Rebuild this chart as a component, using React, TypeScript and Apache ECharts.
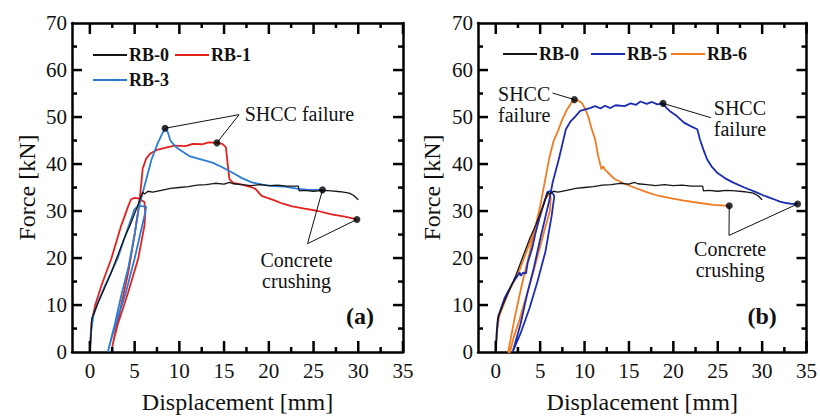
import React, { useEffect, useRef } from "react";
import * as echarts from "echarts";

const FONT = "'Liberation Serif', 'Times New Roman', Times, serif";

const xMajorTicks = [0, 5, 10, 15, 20, 25, 30, 35];
const xMinorTicks = [2.5, 7.5, 12.5, 17.5, 22.5, 27.5, 32.5];
const yMajorTicks = [10, 20, 30, 40, 50, 60];
const yMinorTicks = [5, 15, 25, 35, 45, 55, 65];
const xTitle = "Displacement [mm]";
const yTitle = "Force [kN]";

const RB0 = [
  [0, 0], [0.1, 3], [0.2, 7], [0.8, 10], [1.5, 13], [2.3, 16.5], [3, 20], [3.8, 24], [4.5, 27],
  [5.2, 30.4], [5.6, 32.5], [5.9, 34], [6.1, 33.6], [6.5, 34.2], [7, 34], [8, 34.4], [9, 34.8],
  [10, 35], [11, 35.2], [12, 35.5], [13, 35.6], [14, 35.9], [15, 35.7], [15.6, 36.1], [16, 35.8],
  [17, 35.6], [18, 35.4], [19, 35.6], [20, 35.4], [21, 35.5], [22, 35.3], [23.3, 35.3], [23.4, 34.3],
  [24, 34.4], [25, 34.2], [26, 34.4], [27, 34.3], [28, 34.1], [29, 33.8], [29.5, 33.3], [30, 32.4],
];

const RB1 = [
  [0, 0], [0.2, 6.5], [0.6, 10], [1.3, 14.2], [2.4, 19.9], [3.5, 26.9], [4.3, 31.1], [4.6, 32.5],
  [5.0, 32.8], [5.4, 32.7], [6.1, 31.9], [6.2, 29.5], [6.1, 26.9], [5.4, 19.9], [4.3, 12.8], [3.1, 5.8],
  [2.6, 2], [2.4, 0], [2.7, 3], [3.5, 10], [4.3, 17], [5.0, 25], [5.4, 30], [5.7, 35], [5.9, 39],
  [6.3, 41.2], [6.8, 42.3], [7.5, 43], [8.5, 43.5], [9.5, 43.9], [10.7, 43.8], [11.5, 44.3], [12.5, 44.2],
  [13.3, 44.6], [14.2, 44.5], [14.8, 44.3], [15.2, 43.6], [15.4, 40], [15.6, 36.8], [16, 36], [17, 35.6],
  [18, 35.1], [18.5, 34.7], [19.2, 33.2], [20.7, 32.2], [21.5, 31.6], [22.6, 31], [24, 30.5], [25.5, 30],
  [27, 29.3], [28.5, 28.8], [29.85, 28.2],
];

const RB3 = [
  [0, 0], [0.1, 4], [0.4, 7.8], [1, 11], [1.7, 14.2], [3.1, 19.9], [4, 25], [5, 30.4], [5.4, 31.1],
  [6.0, 31], [6.3, 30.9], [6.1, 29], [5, 19.9], [4, 12.5], [3.1, 7.2], [2.5, 3.5], [2, 0], [2.8, 6],
  [3.5, 12], [4.3, 18], [5, 25], [5.5, 31], [6.2, 36], [6.9, 41], [7.6, 44.5], [8.1, 46.5], [8.4, 47.6],
  [8.7, 46.8], [9, 45], [9.5, 43.8], [10, 43.1], [11.1, 41.7], [12.4, 41], [13.7, 40.3], [14.8, 39.3],
  [15.9, 38.2], [17, 37], [18.1, 36.1], [19.3, 35.6], [20.4, 35.3], [21.8, 35.2], [23.3, 34.7],
  [24.5, 34.5], [26, 34.5],
];

const RB5 = [
  [0, 0], [0.1, 4], [0.3, 7.7], [1, 11.5], [1.9, 14.7], [2.7, 16.9], [2.8, 16.2], [3.1, 16.9],
  [3.4, 16.7], [3.6, 19], [4.1, 22], [4.5, 25.5], [4.9, 28.3], [5.4, 31.5], [5.8, 34], [6.2, 34.3],
  [6.6, 33.2], [6.3, 29], [5.6, 21.4], [4.7, 15], [3.8, 9.3], [2.8, 4], [1.9, 0], [2.8, 6], [3.5, 12],
  [4.3, 18], [5, 24], [6, 32], [6.4, 36], [7.1, 41], [7.9, 47.4], [8.4, 49], [9, 50.2], [9.5, 51.3],
  [10.1, 51.6], [10.6, 51.9], [11.2, 52.3], [11.8, 51.8], [12.3, 52.4], [12.9, 51.9], [13.5, 52.5],
  [14.5, 52.3], [15.2, 52.9], [15.8, 52.6], [16.3, 53.3], [17, 52.8], [17.6, 53.2], [18.2, 52.7],
  [18.84, 52.9], [19.2, 52], [19.7, 51.1], [20.4, 50.2], [21.2, 48.8], [22, 48], [22.7, 47.4], [23, 45.2],
  [23.4, 43], [23.8, 41], [24.3, 39.5], [24.9, 38.2], [25.8, 37], [26.7, 36.1], [28, 35], [29.3, 34],
  [30.3, 33.2], [31.2, 32.6], [32, 32], [32.7, 31.7], [33.3, 31.5], [34, 31.5],
];

const RB6 = [
  [0, 0], [0.1, 4], [0.4, 7.7], [1.4, 12.6], [2.7, 17.5], [4.1, 24.6], [5.0, 29.5], [5.6, 32.6],
  [6, 33.6], [6.2, 32.9], [6.1, 30], [5.6, 26.7], [4.8, 21], [4.1, 16.1], [3.3, 11], [2.7, 7], [2, 3],
  [1.6, 0], [1.4, 0], [2.1, 7], [2.9, 14], [3.8, 21], [4.5, 27], [5, 31], [5.5, 36], [6, 41],
  [6.5, 44.8], [7, 47], [7.5, 49.5], [8, 51.5], [8.5, 53], [8.86, 53.7], [9.3, 53.5], [9.7, 53],
  [10.1, 51.6], [10.4, 50.2], [10.8, 47.5], [11.2, 45.2], [11.5, 42], [11.9, 38.9], [12.1, 39.5],
  [12.3, 38.8], [13, 37.5], [13.4, 36.8], [14.5, 35.8], [15.6, 35], [17, 34], [18.2, 33.3],
  [19.5, 32.8], [21.2, 32.2], [23, 31.7], [24.5, 31.3], [26.3, 31.1],
];

const dotsA = [[8.4, 47.6], [14.2, 44.5], [26, 34.5], [29.85, 28.2]];
const dotsB = [[8.86, 53.7], [18.84, 52.9], [26.3, 31.1], [34, 31.5]];

const leadersA = [
  [[8.4, 47.6], [16.67, 50.5], [14.2, 44.5]],
  [[26, 34.5], [24.33, 23.05], [29.85, 28.2]],
];
const leadersB = [
  [[6.39, 55.1], [8.86, 53.7]],
  [[18.84, 52.9], [24.23, 49.85]],
  [[26.3, 31.1], [26.27, 24.8], [34, 31.5]],
];

const notesA = [
  { text: "SHCC failure", at: [17.3, 50.6], align: "left", bold: false, size: 20 },
  { text: "Concrete\ncrushing", at: [23.1, 17.4], align: "center", bold: false, size: 20 },
  { text: "(a)", at: [30.2, 7.6], align: "center", bold: true, size: 24 },
];
const notesB = [
  { text: "SHCC\nfailure", at: [3.2, 52.6], align: "center", bold: false, size: 20 },
  { text: "SHCC\nfailure", at: [27.5, 49.7], align: "center", bold: false, size: 20 },
  { text: "Concrete\ncrushing", at: [26.4, 19.7], align: "center", bold: false, size: 20 },
  { text: "(b)", at: [30.0, 7.6], align: "center", bold: true, size: 24 },
];

const COLORS: Record<string, string> = {
  "RB-0": "#161616",
  "RB-1": "#e3221f",
  "RB-3": "#2a7dd4",
  "RB-5": "#1b2cb3",
  "RB-6": "#f27b22",
};

const legendA = [
  { name: "RB-0", x: 93, y: 55 },
  { name: "RB-1", x: 175, y: 55 },
  { name: "RB-3", x: 93, y: 80 },
];
const legendB = [
  { name: "RB-0", x: 503, y: 54 },
  { name: "RB-5", x: 591, y: 54 },
  { name: "RB-6", x: 671, y: 54 },
];

const X_MIN = -2, X_MAX = 35, Y_MIN = 0, Y_MAX = 70;
const MAJOR_LEN = 10;
const MINOR_LEN = 5;
const axisLine = () => ({ show: true, onZero: false, lineStyle: { color: "#000", width: 2.5 } });

function xAxes(gridIndex: number) {
  return [
    {
      type: "value", gridIndex, min: X_MIN, max: X_MAX, splitLine: { show: false }, position: "bottom",
      name: xTitle, nameLocation: "middle", nameGap: 38,
      nameTextStyle: { fontFamily: FONT, fontSize: 24, color: "#111" },
      axisLine: axisLine(),
      axisTick: { show: false },
      axisLabel: { show: true, customValues: xMajorTicks, margin: 8, fontFamily: FONT, fontSize: 21, color: "#111" },
    },
    {
      type: "value", gridIndex, min: X_MIN, max: X_MAX, splitLine: { show: false }, position: "top",
      axisLine: axisLine(),
      axisTick: { show: false },
      axisLabel: { show: false },
    },
  ];
}

function yAxes(gridIndex: number, nameGap: number) {
  return [
    {
      type: "value", gridIndex, min: Y_MIN, max: Y_MAX, interval: 10, splitLine: { show: false }, position: "left",
      name: yTitle, nameLocation: "middle", nameGap,
      nameTextStyle: { fontFamily: FONT, fontSize: 24, color: "#111" },
      axisLine: axisLine(),
      axisTick: { show: false },
      axisLabel: { show: true, margin: 5, fontFamily: FONT, fontSize: 21, color: "#111" },
    },
    {
      type: "value", gridIndex, min: Y_MIN, max: Y_MAX, interval: 10, splitLine: { show: false }, position: "right",
      axisLine: axisLine(),
      axisTick: { show: false },
      axisLabel: { show: false },
    },
  ];
}

function curve(name: string, data: number[][], xi: number, yi: number, width: number) {
  return {
    type: "line", name, data, xAxisIndex: xi, yAxisIndex: yi,
    showSymbol: false, symbol: "none", smooth: false, z: name === "RB-0" ? 3 : 2,
    lineStyle: { color: COLORS[name], width },
  };
}

function leader(data: number[][], xi: number, yi: number) {
  return {
    type: "line", data, xAxisIndex: xi, yAxisIndex: yi, symbol: "none", z: 4,
    lineStyle: { color: "#111", width: 1 }, silent: true,
  };
}

export default function App() {
  const ref = useRef<HTMLDivElement>(null);
  useEffect(() => {
    if (!ref.current) return;
    const chart = echarts.init(ref.current, null, { renderer: "svg" });
    const series: any[] = [
      curve("RB-1", RB1, 0, 0, 1.8),
      curve("RB-3", RB3, 0, 0, 1.8),
      curve("RB-0", RB0, 0, 0, 1.3),
      curve("RB-6", RB6, 2, 2, 1.8),
      curve("RB-5", RB5, 2, 2, 1.8),
      curve("RB-0", RB0, 2, 2, 1.3),
      ...leadersA.map((d) => leader(d, 0, 0)),
      ...leadersB.map((d) => leader(d, 2, 2)),
      { type: "scatter", data: dotsA, xAxisIndex: 0, yAxisIndex: 0, symbolSize: 7, itemStyle: { color: "#000" }, z: 5 },
      { type: "scatter", data: dotsB, xAxisIndex: 2, yAxisIndex: 2, symbolSize: 7, itemStyle: { color: "#000" }, z: 5 },
    ];
    chart.setOption({
      animation: false,
      grid: [
        { left: 72, right: 417, top: 23, bottom: 65, containLabel: false },
        { left: 478, right: 12, top: 23, bottom: 65, containLabel: false },
      ],
      xAxis: [...xAxes(0), ...xAxes(1)],
      yAxis: [...yAxes(0, 33), ...yAxes(1, 34)],
      series,
    });

    const graphic: any[] = [];
    // tick marks: filled rectangles along the inner side of each frame edge
    const addTicks = (xi: number, yi: number) => {
      const finder = { xAxisIndex: xi, yAxisIndex: yi } as any;
      const p0 = chart.convertToPixel(finder, [X_MIN, Y_MIN]) as number[];
      const p1 = chart.convertToPixel(finder, [X_MAX, Y_MAX]) as number[];
      const left = p0[0], bottom = p0[1], right = p1[0], top = p1[1];
      const rect = (x: number, y: number, w: number, h: number) => {
        graphic.push({
          type: "rect", z: 50,
          shape: { x: Math.round(x * 10) / 10, y: Math.round(y * 10) / 10, width: w, height: h },
          style: { fill: "#000000" },
        });
      };
      const xt = (vals: number[], len: number) => vals.forEach((v) => {
        const px = (chart.convertToPixel(finder, [v, Y_MIN]) as number[])[0];
        rect(px - 1.25, bottom - len, 2.5, len);
        rect(px - 1.25, top, 2.5, len);
      });
      const yt = (vals: number[], len: number) => vals.forEach((v) => {
        const py = (chart.convertToPixel(finder, [X_MIN, v]) as number[])[1];
        rect(left, py - 1.25, len, 2.5);
        rect(right - len, py - 1.25, len, 2.5);
      });
      xt(xMajorTicks, MAJOR_LEN + 1);
      xt(xMinorTicks, MINOR_LEN);
      yt(yMajorTicks, MAJOR_LEN);
      yt(yMinorTicks, MINOR_LEN);
    };
    addTicks(0, 0);
    addTicks(2, 2);

    const addLegend = (items: any[]) => {
      items.forEach((it) => {
        graphic.push({
          type: "line", shape: { x1: it.x, y1: it.y, x2: it.x + 34, y2: it.y },
          style: { stroke: COLORS[it.name], lineWidth: 2 },
        });
        graphic.push({
          type: "text", x: it.x + 36, y: it.y,
          style: { text: it.name, fontFamily: FONT, fontSize: 18, fontWeight: "bold", fill: "#111", textVerticalAlign: "middle", textAlign: "left" },
        });
      });
    };
    addLegend(legendA);
    addLegend(legendB);
    const addNotes = (notes: any[], xi: number, yi: number) => {
      notes.forEach((n) => {
        const p = chart.convertToPixel({ xAxisIndex: xi, yAxisIndex: yi } as any, n.at) as number[];
        graphic.push({
          type: "text", x: p[0], y: p[1],
          style: {
            text: n.text, fontFamily: FONT, fontSize: n.size, fontWeight: n.bold ? "bold" : "normal",
            fill: "#111", textAlign: n.align, textVerticalAlign: "middle", lineHeight: 21,
          },
        });
      });
    };
    addNotes(notesA, 0, 0);
    addNotes(notesB, 2, 2);
    chart.setOption({ graphic });

    return () => chart.dispose();
  }, []);
  return <div ref={ref} style={{ width: 820, height: 419, position: "absolute", left: 0, top: 0, background: "#fff" }} />;
}
